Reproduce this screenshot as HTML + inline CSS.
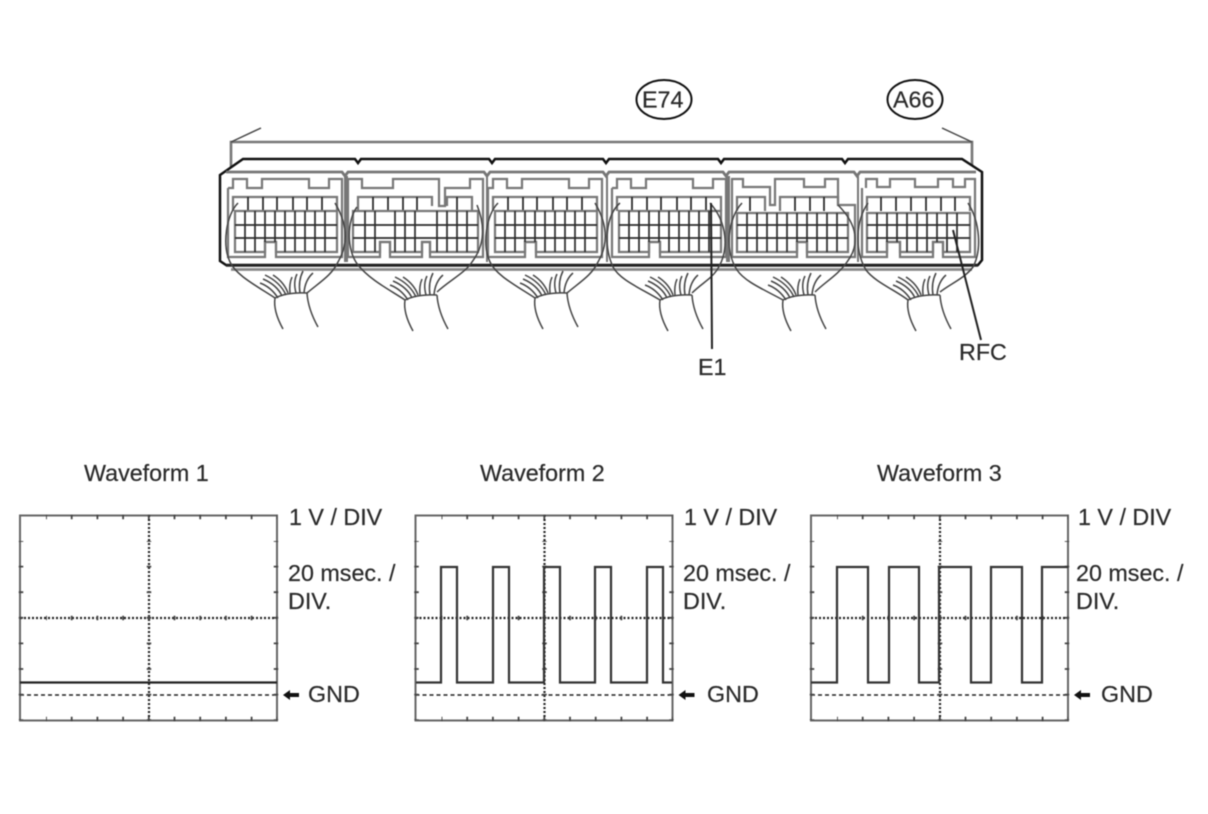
<!DOCTYPE html>
<html><head><meta charset="utf-8"><style>
html,body{margin:0;padding:0;background:#fff}
svg{display:block;filter:blur(.45px)}
text{font-family:"Liberation Sans",sans-serif;font-size:23.300px;fill:#2a2a2a;stroke:#2a2a2a;stroke-width:.2px}
.g{fill:none;stroke:#777;stroke-width:2.200}
.d{fill:none;stroke:#222;stroke-width:1.700}
.m{fill:none;stroke:#444;stroke-width:1.500}
.h{stroke:#2a2a2a;stroke-width:1.700;fill:none}
</style></head><body>
<svg width="1208" height="814" viewBox="0 0 1208 814" xmlns="http://www.w3.org/2000/svg">
<defs>
<g id="fan" class="m">
<path d="M0 22Q-2 35 8 53"/><path d="M32 17Q33 33 43 51"/>
<path d="M0 22Q12 16 32 17"/>
<path d="M-10 -1Q5 6 11 19"/><path d="M-12 3Q2 9 7 20"/><path d="M-15 7Q-4 11 3 22"/>
<path d="M-2 -1Q9 6 13 17"/><path d="M17 1Q14 8 15 17"/><path d="M22 -2Q18 6 21 17"/><path d="M28 -5Q23 5 25 17"/><path d="M38 -3Q30 4 29 17"/>
</g>
<g id="p">
<rect x="20" y="515.500" width="257" height="205" fill="none" stroke="#666" stroke-width="2"/>
<line x1="20" y1="618" x2="277" y2="618" stroke="#222" stroke-width="2.200" stroke-dasharray="2 2"/>
<line x1="149" y1="515" x2="149" y2="720" stroke="#222" stroke-width="2.200" stroke-dasharray="2 2"/>
<line x1="20" y1="695" x2="277" y2="695" stroke="#222" stroke-width="1.600" stroke-dasharray="4 3"/>
<g stroke="#444" stroke-width="4.500" fill="none">
<line x1="46" y1="517" x2="277" y2="517" stroke-dasharray="1.800 23.900" stroke-dashoffset=".9"/>
<line x1="46" y1="719" x2="277" y2="719" stroke-dasharray="1.800 23.900" stroke-dashoffset=".9"/>
<line x1="46" y1="618" x2="277" y2="618" stroke-dasharray="1.800 23.900" stroke-dashoffset=".9"/>
<line x1="21" y1="541" x2="21" y2="720" stroke-dasharray="1.800 23.800" stroke-dashoffset=".9"/>
<line x1="276" y1="541" x2="276" y2="720" stroke-dasharray="1.800 23.800" stroke-dashoffset=".9"/>
<line x1="149" y1="541" x2="149" y2="720" stroke-dasharray="1.800 23.800" stroke-dashoffset=".9"/>
</g>
<path d="M283 695L290 690V693H299V697H290V700Z" fill="#111"/>
</g>
<!-- narrow connector -->
<g id="n">
<path class="g" d="M228 188V257H265V242H276V257H342V179H329V188H309V179H262V188H247V179H233V188H228"/>
<path class="g" d="M233 211V197H337V211"/>
<path class="d" d="M248 197V211M263 197V211M277 197V211M293 197V211M307 197V211M322 197V211"/>
<path class="g" d="M235 211H337V252H276V242H265V252H235Z"/>
<path class="h" d="M235 225H337M235 238H337M245 211V252M255 211V252M265 211V242M275 211V242M285 211V252M295 211V252M305 211V252M315 211V252M325 211V252"/>
</g>
</defs>
<rect width="1208" height="814" fill="#fff"/>

<ellipse cx="664" cy="99.500" rx="27.500" ry="19.500" fill="none" stroke="#111" stroke-width="2"/>
<text x="642" y="107.500">E74</text>
<ellipse cx="915" cy="99.500" rx="27.500" ry="19.500" fill="none" stroke="#111" stroke-width="2"/>
<text x="893" y="107.500">A66</text>

<path fill="none" stroke="#777" stroke-width="2.600" d="M231 167V142H972V165"/>
<path fill="none" stroke="#444" stroke-width="1.500" d="M231 142L261 128M972 142L942 128"/>

<path fill="none" stroke="#111" stroke-width="2.500" d="M243 159H355L358 163L361 159H489L492 163L495 159H603L606 163L609 159H718L721 163L724 159H842L845 163L848 159H962L982 172V260L978 265H226L220 261V175Z"/>
<path fill="none" stroke="#777" stroke-width="2.800" d="M226 172H342L345 176L348 172H484L487 176L490 172H603L606 176L609 172H723L726 176L729 172H854L857 176L860 172H976"/>
<path fill="none" stroke="#222" stroke-width="2.600" d="M226 265.500H978"/>
<path fill="none" stroke="#888" stroke-width="2.800" d="M231 269.500H972"/>
<path fill="none" stroke="#777" stroke-width="2" d="M345 176V262M347 176V262M487 176V262M607 176V262M727 176V262M729 176V262M858 176V262"/>

<use href="#n"/>
<use href="#n" x="260"/>
<use href="#n" x="384"/>

<!-- connector 2 -->
<path class="g" d="M348 188V257H380V242H390V257H422V242H430V257H483V179H470V188H445V206H439V179H393V188H362V179H348V188"/>
<path class="g" d="M358 211V197H432V206M447 206V197H472V211"/>
<path class="d" d="M373 197V211M388 197V211M403 197V211M417 197V211M457 197V211"/>
<path class="g" d="M353 211H478V252H430V242H422V252H390V242H380V252H353Z"/>
<path class="h" d="M353 225H478M353 238H478M365 211V252M375 211V252M395 211V252M405 211V252M415 211V252M437 211V252M447 211V252M457 211V252M467 211V252"/>

<!-- connector 5 -->
<path class="g" d="M732 188V257H797V242H807V257H855V205H843H838V179H825V187H804V179H775V205H770V187H743V179H732V188"/>
<path class="g" d="M737 211V197H765V211M780 211V197H838V205"/>
<path class="d" d="M750 197V211M795 197V211M810 197V211M824 197V211"/>
<path class="g" d="M737 213H848V252H807V242H797V252H737Z"/>
<path class="h" d="M737 225H848M737 238H848M747 213V252M757 213V252M767 213V252M777 213V252M787 213V252M797 213V242M807 213V242M817 213V252M827 213V252M837 213V252"/>

<!-- connector 6 -->
<path class="g" d="M862 188V257H887V242H900V257H933V242H943V257H975V179H965V187H953V179H938V187H915V179H890V187H877V179H866V188"/>
<path class="g" d="M867 211V197H970V211"/>
<path class="d" d="M881 197V211M896 197V211M911 197V211M926 197V211M941 197V211M955 197V211"/>
<path class="g" d="M867 213H970V252H943V242H933V252H900V242H887V252H867Z"/>
<path class="h" d="M867 225H970M867 238H970M877 213V252M887 213V242M897 213V242M907 213V252M917 213V252M927 213V252M937 213V242M947 213V252M957 213V252"/>

<!-- ovals -->
<g class="m">
<path d="M238 203C226 215 222 245 230 262C236 275 255 285 275 298"/><path d="M335 203C348 225 348 245 338 262C332 275 320 282 307 293"/>
<path d="M357 207C347 220 346 250 358 265C370 280 390 290 405 300"/><path d="M477 205C485 225 485 245 472 262C465 273 450 280 437 292"/>
<path d="M498 203C486 215 482 245 490 262C496 275 515 285 535 298"/><path d="M595 203C608 225 608 245 598 262C592 275 580 282 567 293"/>
<path d="M620 203C606 215 603 245 613 267C620 280 640 288 660 300"/><path d="M710 203C727 222 730 250 717 270C710 280 702 283 692 293"/>
<path d="M742 203C728 218 724 250 737 270C745 282 765 290 783 300"/><path d="M838 205C858 225 860 245 847 262C838 275 825 282 815 292"/>
<path d="M868 203C856 220 854 250 866 270C875 282 895 290 908 300"/><path d="M968 203C980 222 982 250 973 267C965 278 950 284 940 292"/>
</g>
<use href="#fan" x="275" y="276"/>
<use href="#fan" x="405" y="278"/>
<use href="#fan" x="535" y="276"/>
<use href="#fan" x="660" y="278"/>
<use href="#fan" x="783" y="278"/>
<use href="#fan" x="908" y="278"/>

<path fill="none" stroke="#222" stroke-width="2" d="M711 203L712 349M953 230L981 340"/>
<text x="698" y="375">E1</text>
<text x="959" y="360">RFC</text>

<!-- panels -->
<use href="#p"/>
<use href="#p" x="395.500"/>
<use href="#p" x="791"/>
<path fill="none" stroke="#222" stroke-width="2.200" d="M20 682.500H277"/>
<path fill="none" stroke="#333" stroke-width="2.200" d="M416 682.500H441V567H457V682.500H493V567H509V682.500H544V567H560V682.500H595V567H611V682.500H647V567H663V682.500H672"/>
<path fill="none" stroke="#333" stroke-width="2.200" d="M811 682.500H837V567H868V682.500H889V567H919V682.500H939V567H971V682.500H991V567H1022V682.500H1042V567H1068"/>

<text x="84" y="481">Waveform 1</text>
<text x="480" y="481">Waveform 2</text>
<text x="877" y="481">Waveform 3</text>

<text x="289" y="525">1 V / DIV</text>
<text x="288" y="581">20 msec. /</text>
<text x="288" y="609">DIV.</text>
<text x="308" y="702">GND</text>

<text x="684" y="525">1 V / DIV</text>
<text x="683" y="581">20 msec. /</text>
<text x="683" y="609">DIV.</text>
<text x="707" y="702">GND</text>

<text x="1078" y="525">1 V / DIV</text>
<text x="1076" y="581">20 msec. /</text>
<text x="1076" y="609">DIV.</text>
<text x="1101" y="702">GND</text>
</svg>
</body></html>
